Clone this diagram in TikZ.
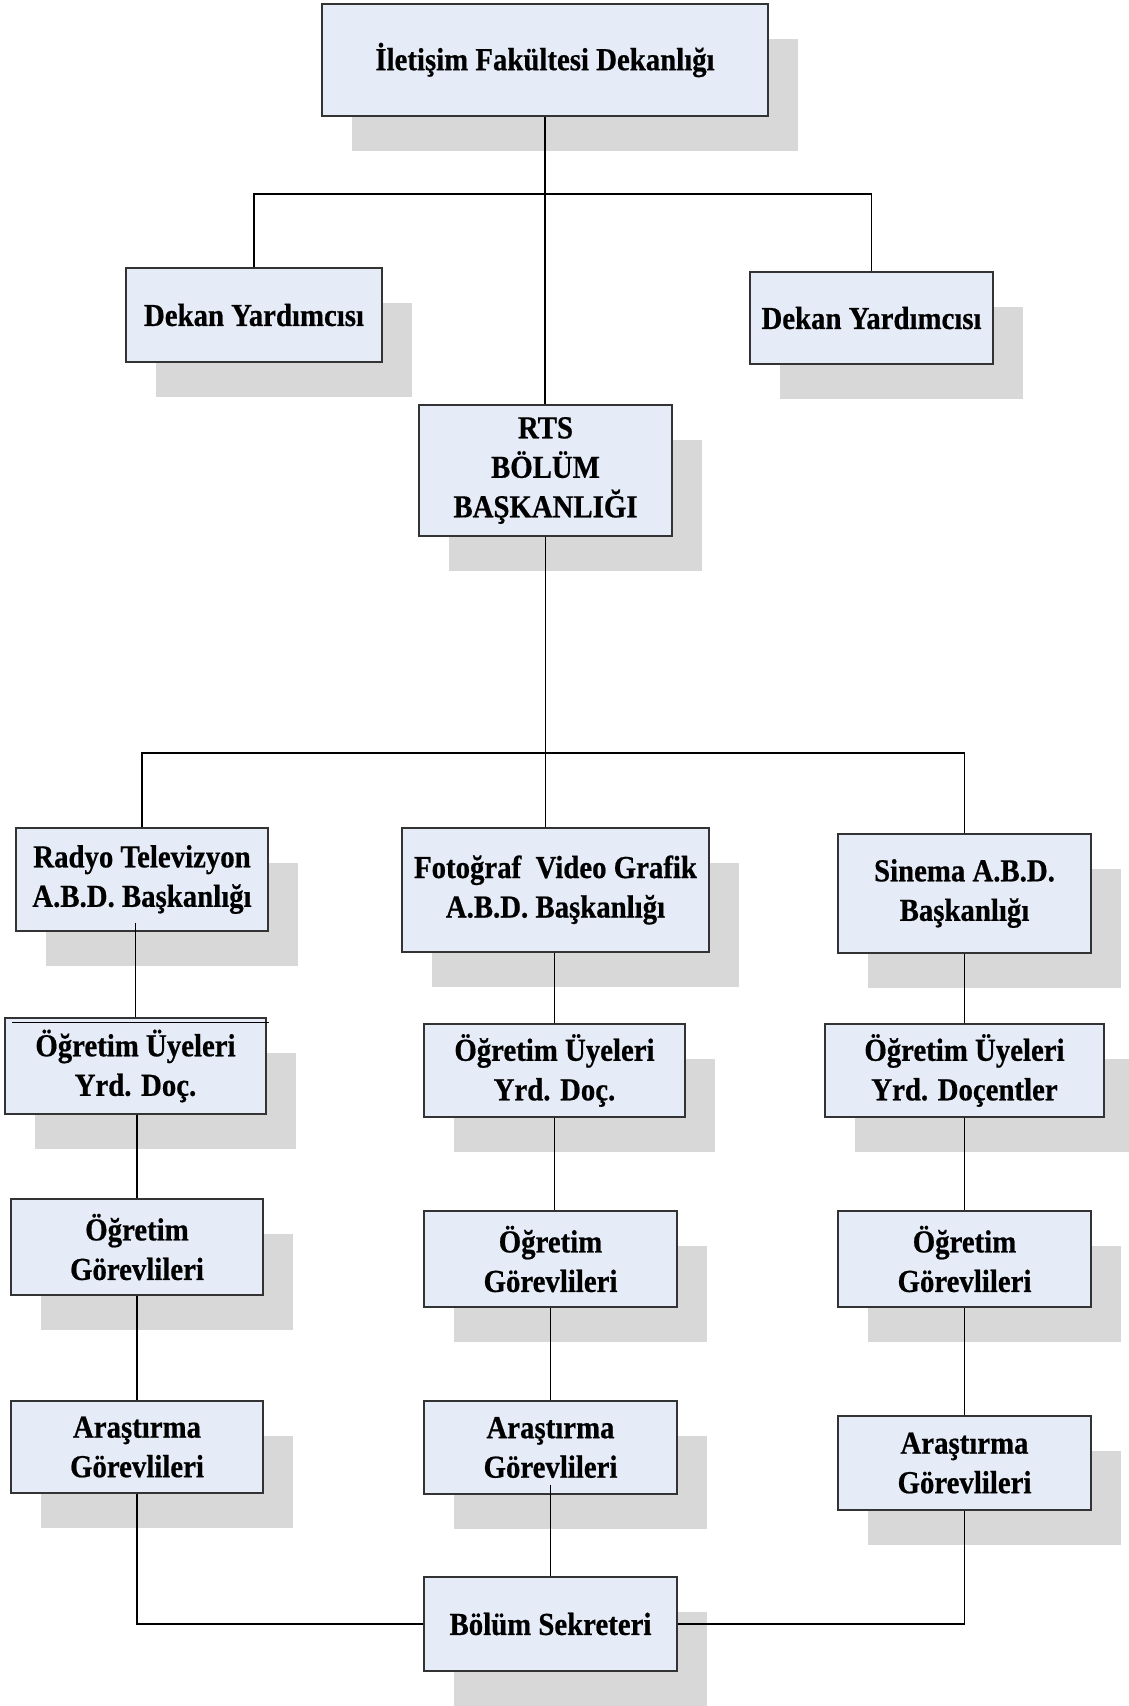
\documentclass[tikz,border=0pt]{standalone}
\usepackage{fontspec}
\setmainfont{Liberation Serif}[BoldFeatures={FakeStretch=0.9,FakeBold=0.6}]
\usetikzlibrary{shadows}
\definecolor{boxfill}{HTML}{E6ECF7}
\definecolor{shgray}{HTML}{D8D8D8}
\definecolor{boxline}{HTML}{333333}
\tikzset{
  orgbox/.style={draw=boxline, line width=1.3pt, fill=boxfill, rectangle,
    inner sep=0pt, align=center,
    font=\bfseries\fontsize{32}{39.5}\selectfont,
    drop shadow={shadow xshift=30pt, shadow yshift=-35pt, fill=shgray, opacity=1}},
  conn/.style={draw=black, line width=1.2pt}
}
\begin{document}
\begin{tikzpicture}[x=1pt,y=-1pt]
\useasboundingbox (0,0) rectangle (1128,1706);
% boxes
\node[orgbox, minimum width=446pt, minimum height=112pt] (dekanlik) at (545,60) {İletişim Fakültesi Dekanlığı};
\node[orgbox, minimum width=256pt, minimum height=94pt] (dy1) at (254,315) {Dekan Yardımcısı};
\node[orgbox, minimum width=243pt, minimum height=92pt] (dy2) at (871.5,318) {Dekan Yardımcısı};
\node[orgbox, minimum width=253pt, minimum height=131pt] (rts) at (545.5,470.5) {RTS\\BÖLÜM\\BAŞKANLIĞI};
\node[orgbox, minimum width=252pt, minimum height=103pt] (radyo) at (142,879.5) {Radyo Televizyon\\A.B.D. Başkanlığı};
\node[orgbox, minimum width=307pt, minimum height=124pt] (foto) at (555.5,890) {Fotoğraf\ \ Video Grafik\\A.B.D. Başkanlığı};
\node[orgbox, minimum width=253pt, minimum height=119pt] (sinema) at (964.5,893.5) {Sinema A.B.D.\\Başkanlığı};
\node[orgbox, minimum width=261pt, minimum height=96pt] (ou1) at (135.5,1066) {Öğretim Üyeleri\\Yrd. Doç.};
\node[orgbox, minimum width=261pt, minimum height=93pt] (ou2) at (554.5,1070.5) {Öğretim Üyeleri\\Yrd. Doç.};
\node[orgbox, minimum width=279pt, minimum height=93pt] (ou3) at (964.5,1070.5) {Öğretim Üyeleri\\Yrd. Doçentler};
\node[orgbox, minimum width=252pt, minimum height=96pt] (og1) at (137,1247) {Öğretim\\Görevlileri};
\node[orgbox, minimum width=253pt, minimum height=96pt] (og2) at (550.5,1259) {Öğretim\\Görevlileri};
\node[orgbox, minimum width=253pt, minimum height=96pt] (og3) at (964.5,1259) {Öğretim\\Görevlileri};
\node[orgbox, minimum width=252pt, minimum height=92pt] (ar1) at (137,1447) {Araştırma\\Görevlileri};
\node[orgbox, minimum width=253pt, minimum height=93pt] (ar2) at (550.5,1447.5) {Araştırma\\Görevlileri};
\node[orgbox, minimum width=253pt, minimum height=94pt] (ar3) at (964.5,1463) {Araştırma\\Görevlileri};
\node[orgbox, minimum width=253pt, minimum height=94pt] (sek) at (550.5,1624) {Bölüm Sekreteri};
% hubs
\coordinate (hub1) at (545,194);
\coordinate (hub2) at (545,753);
% connectors
\draw[conn] (dekanlik.south) -- (dekanlik.south |- rts.north);
\draw[conn] (dy1.north) |- (hub1) -| (dy2.north);
\draw[conn] (rts.south) -- (rts.south |- foto.north);
\draw[conn] (radyo.north) |- (hub2) -| (sinema.north);
% left column
\draw[conn] ([yshift=9pt]ou1.north |- radyo.south) -- (ou1.north);
\draw[conn] (og1.north |- ou1.south) -- (og1.north);
\draw[conn] (og1.south) -- (ar1.north);
\draw[conn] (ar1.south) |- (sek.west);
\draw[line width=1.1pt] ([xshift=8pt,yshift=-5pt]ou1.north west) -- ([xshift=2pt,yshift=-5pt]ou1.north east);
% middle column
\draw[conn] (ou2.north |- foto.south) -- (ou2.north);
\draw[conn] (ou2.south) -- (ou2.south |- og2.north);
\draw[conn] (og2.south) -- (ar2.north);
\draw[conn] ([yshift=10pt]ar2.south) -- (sek.north);
% right column
\draw[conn] (sinema.south) -- (ou3.north);
\draw[conn] (ou3.south) -- (og3.north);
\draw[conn] (og3.south) -- (ar3.north);
\draw[conn] (ar3.south) |- (sek.east);
\end{tikzpicture}
\end{document}
